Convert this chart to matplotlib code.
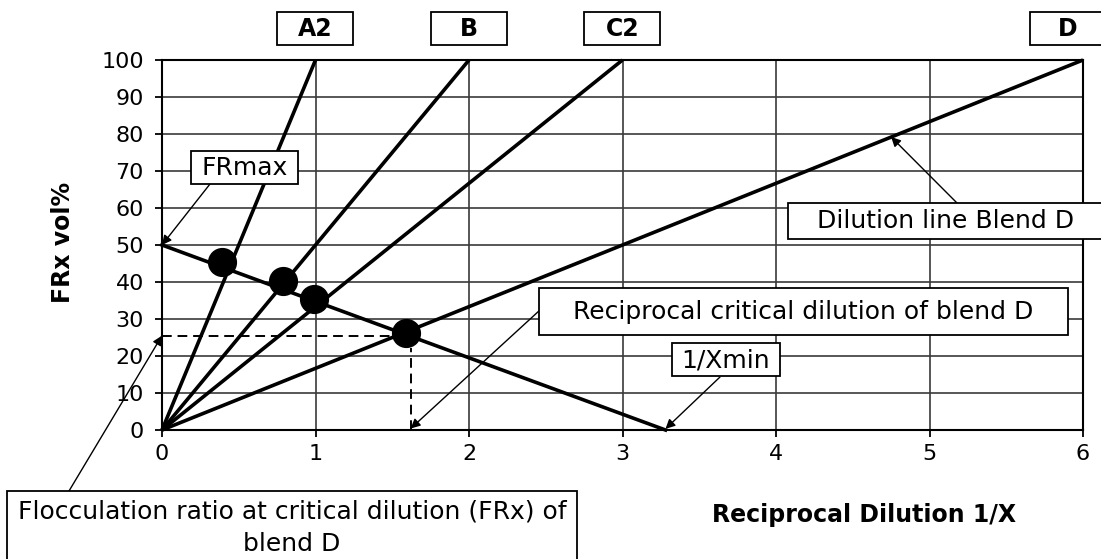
import matplotlib.pyplot as plt
from matplotlib.patches import Rectangle
from matplotlib.transforms import blended_transform_factory

# dilution lines: all start at the origin and reach FRx = 100 at these 1/X values
blends = ['A2', 'B', 'C2', 'D']
blend_x_at_100 = [1, 2, 3, 6]
blend_label_x = [1, 2, 3, 5.9]

# critical line FRmax -> 1/Xmin
crit_x = [0, 3.28]
crit_y = [50, 0]

# critical dilution points
pt_x = [0.39, 0.79, 0.99, 1.59]
pt_y = [45.5, 40.4, 35.3, 26.2]

# blend D reading
frx_d = 25.5
xcrit_d = 1.62

W, H = 1101, 559
fig = plt.figure(figsize=(W / 100, H / 100), dpi=100)
ax = fig.add_axes([162 / W, 1 - 430 / H, (1083 - 162) / W, 370 / H])


def fx(px):
    return px / W


def fy(py):
    return 1 - py / H


def box(x0, y0, x1, y1):
    # box in reference pixel coords (top-left origin)
    fig.patches.append(Rectangle((fx(x0), fy(y1)), (x1 - x0) / W, (y1 - y0) / H,
                                 transform=fig.transFigure, fc='white', ec='black', lw=1.3))


ax.set_xlim(0, 6)
ax.set_ylim(0, 100)
ax.set_xticks(range(0, 7))
ax.set_yticks(range(0, 101, 10))
ax.grid(True, color='#3a3a3a', lw=1.2)
ax.set_axisbelow(True)
for s in ax.spines.values():
    s.set_linewidth(1.5)
ax.tick_params(direction='out', length=5, width=1.3, labelsize=16)
ax.tick_params(axis='y', pad=8)
ax.tick_params(axis='x', pad=5)

for xe in blend_x_at_100:
    ax.plot([0, xe], [0, 100], color='black', lw=2.6, solid_capstyle='butt', clip_on=False)
ax.plot(crit_x, crit_y, color='black', lw=2.6, clip_on=False)
ax.plot(pt_x, pt_y, 'o', ms=20, color='black', zorder=5)

ax.plot([0, pt_x[3]], [frx_d, frx_d], color='black', lw=1.4, ls=(0, (5, 3)))
ax.plot([xcrit_d, xcrit_d], [0, pt_y[3] - 4], color='black', lw=1.4, ls=(0, (5, 3)))

# blend labels above the plot
tr = blended_transform_factory(ax.transData, ax.transAxes)
for name, xl in zip(blends, blend_label_x):
    ax.add_patch(Rectangle((xl - 0.248, 1.041), 0.495, 0.089, transform=tr,
                           fc='white', ec='black', lw=1.3, clip_on=False, zorder=6))
    ax.text(xl, 1.085, name, transform=tr, ha='center', va='center',
            fontsize=17, fontweight='bold', zorder=7)

arrow = dict(arrowstyle='-|>', lw=1, color='black', mutation_scale=14, shrinkA=0, shrinkB=0)

# FRmax
box(191, 151, 298, 184)
fig.text(fx(245), fy(168), 'FRmax', ha='center', va='center', fontsize=18)
ax.annotate('', xy=(0, 50), xytext=(fx(210), fy(184)), textcoords='figure fraction',
            arrowprops=arrow)

# dilution line blend D
box(788, 203, 1115, 239)
fig.text(fx(946), fy(221), 'Dilution line Blend D', ha='center', va='center', fontsize=18)
ax.annotate('', xy=(4.75, 79.2), xytext=(fx(957), fy(203)), textcoords='figure fraction',
            arrowprops=arrow)

# reciprocal critical dilution
box(539, 288, 1068, 335)
fig.text(fx(803), fy(312), 'Reciprocal critical dilution of blend D', ha='center',
         va='center', fontsize=18)
ax.annotate('', xy=(xcrit_d, 0.4), xytext=(fx(540), fy(310)), textcoords='figure fraction',
            arrowprops=arrow)

# 1/Xmin
box(672, 343, 780, 376)
fig.text(fx(726), fy(360), '1/Xmin', ha='center', va='center', fontsize=18)
ax.annotate('', xy=(crit_x[1], 0.3), xytext=(fx(720), fy(377)), textcoords='figure fraction',
            arrowprops=arrow)

# flocculation ratio
box(7, 491, 577, 565)
fig.text(fx(292), fy(512), 'Flocculation ratio at critical dilution (FRx) of',
         ha='center', va='center', fontsize=18)
fig.text(fx(292), fy(544), 'blend D', ha='center', va='center', fontsize=18)
ax.annotate('', xy=(0, frx_d), xytext=(fx(69), fy(491)), textcoords='figure fraction',
            arrowprops=arrow)

fig.text(fx(63), fy(242), 'FRx vol%', rotation=90, ha='center', va='center',
         fontsize=17, fontweight='bold')
fig.text(fx(864), fy(515), 'Reciprocal Dilution 1/X', ha='center', va='center',
         fontsize=17, fontweight='bold')

fig.savefig('out.png', dpi=100)
